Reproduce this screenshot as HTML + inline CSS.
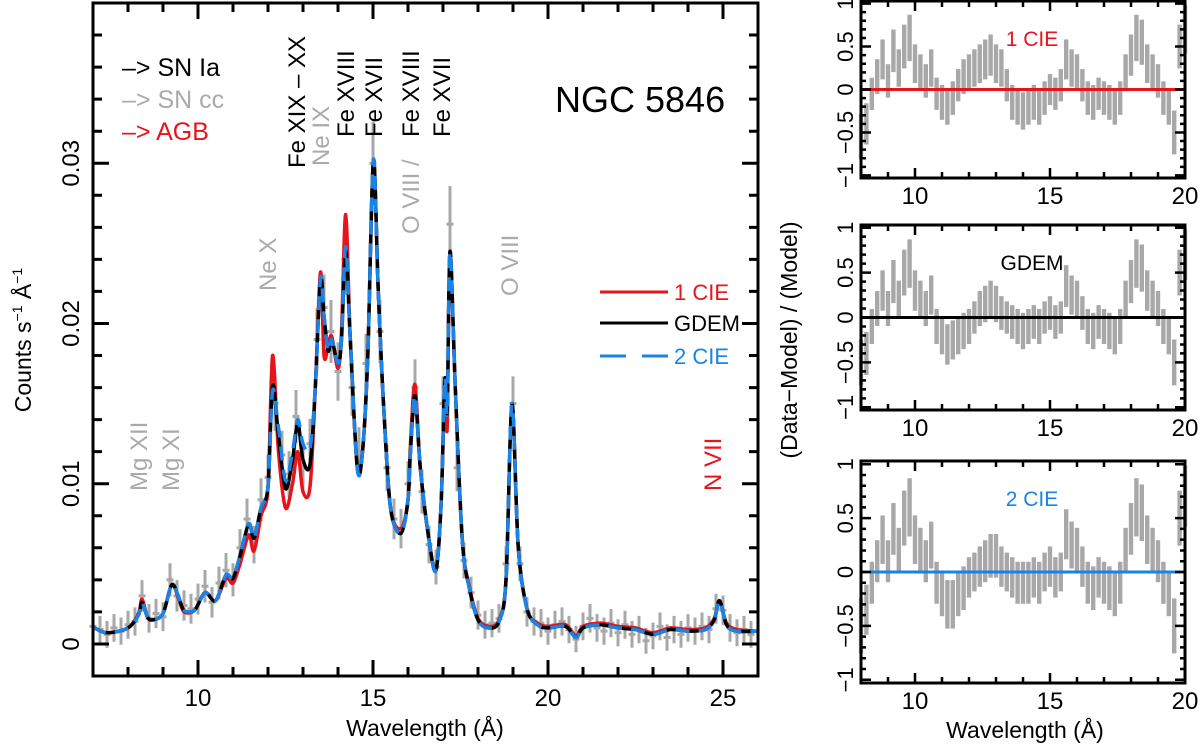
<!DOCTYPE html>
<html><head><meta charset="utf-8"><style>
html,body{margin:0;padding:0;background:#fff;}
svg{display:block;font-family:"Liberation Sans",sans-serif;}
</style></head><body>
<svg id="chart" width="1200" height="746" viewBox="0 0 1200 746">
<g id="main"></g>
<g id="res"></g>
</svg>
<script>
// ---------- main spectrum data ----------
const modelLam = [7.0,7.4,8.0,8.3,8.4,8.55,8.7,9.0,9.25,9.45,9.6,9.9,10.2,10.5,10.8,11.0,11.2,11.45,11.6,11.8,12.0,12.13,12.3,12.5,12.7,12.85,13.0,13.2,13.35,13.5,13.6,13.72,13.82,14.0,14.1,14.22,14.35,14.55,14.7,14.85,15.01,15.15,15.3,15.5,15.8,16.0,16.07,16.2,16.35,16.6,16.8,16.95,17.05,17.12,17.2,17.35,17.55,17.75,18.0,18.3,18.6,18.8,18.97,19.15,19.4,19.7,20.0,20.5,20.8,21.0,21.5,22.0,22.5,23.0,23.5,24.0,24.5,24.75,24.9,25.1,25.4,26.0];
const gdem = [0.00105,0.0007,0.001,0.0018,0.0026,0.0017,0.0015,0.0019,0.0037,0.0029,0.0021,0.0021,0.0032,0.0027,0.0043,0.0041,0.0055,0.0075,0.0066,0.0085,0.0098,0.0161,0.013,0.0097,0.0115,0.0138,0.0115,0.0112,0.016,0.0228,0.0205,0.0183,0.019,0.0175,0.019,0.0245,0.019,0.011,0.012,0.018,0.0302,0.022,0.015,0.0085,0.0069,0.009,0.012,0.0155,0.011,0.0065,0.0046,0.009,0.0165,0.0145,0.0245,0.016,0.0065,0.0035,0.0015,0.001,0.0014,0.004,0.015,0.006,0.0022,0.0012,0.001,0.0011,0.0004,0.001,0.0012,0.001,0.0009,0.0006,0.0009,0.0008,0.0009,0.0015,0.0027,0.0012,0.0008,0.0008];
const cie1 = [0.00105,0.0007,0.001,0.0019,0.0028,0.0017,0.0015,0.0019,0.0037,0.0028,0.0020,0.0021,0.0032,0.0027,0.0041,0.0038,0.0050,0.0068,0.0058,0.0080,0.0098,0.0180,0.012,0.0085,0.0100,0.0120,0.0095,0.0098,0.0160,0.0232,0.0180,0.0186,0.0192,0.0172,0.0195,0.0268,0.019,0.011,0.012,0.018,0.0302,0.022,0.015,0.0085,0.0072,0.009,0.0125,0.0162,0.011,0.0065,0.0046,0.009,0.0160,0.0135,0.0245,0.016,0.0065,0.0036,0.0016,0.0011,0.0015,0.004,0.015,0.006,0.0022,0.0013,0.0011,0.0012,0.0005,0.0011,0.0013,0.0011,0.0010,0.0007,0.0010,0.0009,0.0010,0.0016,0.0027,0.0013,0.0009,0.0008];
const cie2 = [0.00105,0.0007,0.001,0.0018,0.0026,0.0017,0.0015,0.0019,0.0037,0.0029,0.0021,0.0021,0.0032,0.0027,0.0043,0.0041,0.0055,0.0075,0.0066,0.0085,0.0098,0.0158,0.0135,0.0102,0.0120,0.0140,0.0125,0.0122,0.0160,0.0228,0.0205,0.0183,0.019,0.0175,0.019,0.0248,0.019,0.011,0.012,0.018,0.0302,0.022,0.015,0.0085,0.0069,0.009,0.012,0.0155,0.011,0.0065,0.0046,0.009,0.0165,0.0145,0.0245,0.016,0.0065,0.0035,0.0015,0.001,0.0014,0.004,0.015,0.006,0.0022,0.0012,0.001,0.0011,0.0004,0.001,0.0012,0.001,0.0009,0.0006,0.0009,0.0008,0.0009,0.0015,0.0027,0.0012,0.0008,0.0008];
const dataStart = 7.0, dataStep = 0.2;
const dataCounts = [0.0011,0.0009,0.0006,0.0010,0.0008,0.0012,0.0014,0.0030,0.0016,0.0019,0.0017,0.0040,0.0030,0.0024,0.0022,0.0028,0.0036,0.0026,0.0038,0.0046,0.0040,0.0060,0.0078,0.0062,0.0090,0.0104,0.0150,0.0118,0.0106,0.0142,0.0110,0.0125,0.0190,0.0210,0.0195,0.0170,0.0240,0.0160,0.0120,0.0175,0.0300,0.0195,0.0110,0.0078,0.0072,0.0100,0.0160,0.0095,0.0062,0.0048,0.0150,0.0262,0.0110,0.0052,0.0032,0.0018,0.0012,0.0013,0.0016,0.0050,0.0150,0.0050,0.0020,0.0014,0.0013,0.0008,0.0012,0.0014,0.0009,0.0003,0.0011,0.0016,0.0010,0.0008,0.0013,0.0007,0.0012,0.0006,0.0009,0.0002,0.0005,0.0011,0.0004,0.0009,0.0006,0.0010,0.0008,0.0011,0.0009,0.0022,0.0021,0.0010,0.0007,0.0009,0.0006];
const xTicksMain = [10,15,20,25];
const yTicksMain = [0,0.01,0.02,0.03];
const yTickLabelsMain = ["0","0.01","0.02","0.03"];

// ---------- residual data ----------
const resStart = 8.0, resStep = 0.2;
const res1cie = [-0.55,-0.4,-0.05,0.15,0.35,0.1,0.45,0.25,0.5,0.6,0.3,0.2,0.1,0.25,-0.05,-0.15,-0.2,-0.1,0.05,0.15,0.2,0.25,0.3,0.35,0.4,0.3,0.25,0.05,-0.15,-0.2,-0.25,-0.2,-0.15,-0.2,-0.1,0.0,-0.05,0.05,0.35,0.25,0.2,0.05,-0.1,-0.15,-0.05,-0.1,-0.15,-0.2,-0.1,0.2,0.4,0.6,0.55,0.3,0.2,0.1,-0.1,-0.2,-0.5,0.5,0.7];
const resGdem = [-0.5,-0.4,-0.1,0.1,0.3,0.1,0.4,0.2,0.5,0.6,0.3,0.2,0.1,0.25,-0.1,-0.2,-0.3,-0.25,-0.2,-0.15,-0.1,0.0,0.1,0.15,0.2,0.15,0.05,0.0,-0.05,-0.1,-0.15,-0.1,-0.05,-0.1,0.0,0.05,-0.05,0.0,0.35,0.25,0.2,0.05,-0.1,-0.15,-0.05,-0.1,-0.15,-0.2,-0.1,0.2,0.4,0.6,0.55,0.3,0.2,0.1,-0.1,-0.2,-0.5,0.5,0.7];
const res2cie = [-0.5,-0.35,-0.1,0.1,0.3,0.1,0.4,0.2,0.5,0.6,0.3,0.2,0.1,0.25,-0.1,-0.2,-0.3,-0.3,-0.2,-0.15,-0.05,0.0,0.05,0.1,0.15,0.15,0.05,0.0,-0.05,-0.1,-0.1,-0.1,-0.05,-0.1,0.0,0.05,-0.05,0.0,0.35,0.25,0.2,0.05,-0.1,-0.15,-0.05,-0.1,-0.15,-0.2,-0.1,0.2,0.4,0.6,0.55,0.3,0.2,0.1,-0.1,-0.2,-0.5,0.5,0.7];
const resTicksX = [10,15,20];
const resTicksY = [1,0.5,0,-0.5,-1];
const resTickLabelsY = ["1","0.5","0","\u22120.5","\u22121"];

const NS = "http://www.w3.org/2000/svg";
function mk(tag, attrs, parent, text){
  const e = document.createElementNS(NS, tag);
  for (const k in attrs) e.setAttribute(k, attrs[k]);
  if (text !== undefined) e.textContent = text;
  parent.appendChild(e); return e;
}
const M = {l:93, r:758, t:3, b:676, x0:7, x1:26, y0:-0.002, y1:0.040};
const mx = v => M.l + (v - M.x0) / (M.x1 - M.x0) * (M.r - M.l);
const my = v => M.b - (v - M.y0) / (M.y1 - M.y0) * (M.b - M.t);
const main = document.getElementById('main');

const dg = mk('g', {}, main);


dataCounts.forEach((v, i) => {
  const lam = dataStart + i * dataStep;
  const err = 0.0008 + 0.06 * v;
  const bar = mk('path', {d:`M${mx(lam)},${my(v+err)}V${my(Math.max(v-err,-0.0019))}M${mx(lam-dataStep/2)},${my(v)}H${mx(lam+dataStep/2)}`, stroke:'#a8a8a8', 'stroke-width':3, fill:'none'}, dg);
  
  
});
function smoothPath(xs, ys, fx, fy){
  const P = xs.map((x,i)=>[fx(x), fy(ys[i])]);
  let d = `M${P[0][0].toFixed(1)},${P[0][1].toFixed(1)}`;
  for (let i=0;i<P.length-1;i++){
    const p0=P[Math.max(i-1,0)], p1=P[i], p2=P[i+1], p3=P[Math.min(i+2,P.length-1)];
    const t=0.16;
    const c1=[p1[0]+(p2[0]-p0[0])*t, p1[1]+(p2[1]-p0[1])*t];
    const c2=[p2[0]-(p3[0]-p1[0])*t, p2[1]-(p3[1]-p1[1])*t];
    d+=`C${c1[0].toFixed(1)},${c1[1].toFixed(1)} ${c2[0].toFixed(1)},${c2[1].toFixed(1)} ${p2[0].toFixed(1)},${p2[1].toFixed(1)}`;
  }
  return d;
}
const l1 = mk('path', {d:smoothPath(modelLam,cie1,mx,my), stroke:'#e8141c', 'stroke-width':3.5, fill:'none', 'stroke-linejoin':'round'}, main);


const l2 = mk('path', {d:smoothPath(modelLam,gdem,mx,my), stroke:'#000', 'stroke-width':3.5, fill:'none', 'stroke-linejoin':'round'}, main);


const l3 = mk('path', {d:smoothPath(modelLam,cie2,mx,my), stroke:'#1a84e6', 'stroke-width':3.5, fill:'none', 'stroke-dasharray':'14,9', 'stroke-linejoin':'round'}, main);



const fr = mk('rect', {x:M.l, y:M.t, width:M.r-M.l, height:M.b-M.t, fill:'none', stroke:'#000', 'stroke-width':3}, main);


let tk = '';
for (let w = 8; w <= 25; w++){ const L = (w%5===0)?16:9; tk += `M${mx(w)},${M.b}v${-L}M${mx(w)},${M.t}v${L}`; }
for (let k = 0; k <= 20; k++){ const v = k*0.002; const L = (k%5===0)?16:9; tk += `M${M.l},${my(v)}h${L}M${M.r},${my(v)}h${-L}`; }
const tks = mk('path', {d:tk, stroke:'#000', 'stroke-width':3}, main);


xTicksMain.forEach(v => {
  const t = mk('text', {x:mx(v), y:706, 'font-size':24, 'text-anchor':'middle'}, main, String(v));
  
  
});
yTicksMain.forEach((v,i) => {
  const t = mk('text', {x:0, y:0, 'font-size':24, 'text-anchor':'middle', transform:`translate(79,${my(v)}) rotate(-90)`}, main, yTickLabelsMain[i]);
  
  
});

const R = {l:861, r:1185, x0:8, x1:20};
const rx = v => R.l + (v - R.x0) / (R.x1 - R.x0) * (R.r - R.l);
const panels = [
  {t:1, b:178, data:res1cie, color:'#e8141c', label:'1 CIE', name:'residual-panel-1cie'},
  {t:225, b:410, data:resGdem, color:'#000', label:'GDEM', name:'residual-panel-gdem'},
  {t:461, b:683, data:res2cie, color:'#1a84e6', label:'2 CIE', name:'residual-panel-2cie'}
];
const resG = document.getElementById('res');
panels.forEach(p => {
  const g = mk('g', {}, resG);
  
  
  const ry = v => (p.t+p.b)/2 - v / 1.03 * (p.b - p.t)/2;
  p.data.forEach((v,i) => {
    const lam = resStart + i*resStep;
    const e = 0.18 + Math.abs(v)*0.15;
    const lo = Math.max(v-e,-1.03), hi = Math.min(v+e,1.03);
    const b = mk('rect', {x:rx(lam-resStep/2)+0.5, y:ry(hi), width:(rx(resStep)-rx(0))-1, height:ry(lo)-ry(hi), fill:'#a8a8a8'}, g);
    
    
  });
  const zl = mk('line', {x1:R.l, x2:R.r, y1:ry(0), y2:ry(0), stroke:p.color, 'stroke-width':3}, g);
  
  
  const f = mk('rect', {x:R.l, y:p.t, width:R.r-R.l, height:p.b-p.t, fill:'none', stroke:'#000', 'stroke-width':3}, g);
  
  
  let d='';
  for (let w=9; w<20; w++){ const L=(w%5===0)?10:6; d+=`M${rx(w)},${p.b}v${-L}M${rx(w)},${p.t}v${L}`; }
  for (let k=-10;k<=10;k++){ const v=k*0.1; const L=(k%5===0)?10:5; d+=`M${R.l},${ry(v)}h${L}M${R.r},${ry(v)}h${-L}`; }
  const tp = mk('path', {d:d, stroke:'#000', 'stroke-width':2.5}, g);
  
  
  resTicksX.forEach(v => {
    const t = mk('text', {x:rx(v), y:p.b+26, 'font-size':24, 'text-anchor':'middle'}, g, String(v));
    
    
  });
  resTicksY.forEach((v,i) => {
    const t = mk('text', {x:0, y:0, 'font-size':22, 'text-anchor':'middle', transform:`translate(853,${ry(v)}) rotate(-90)`}, g, resTickLabelsY[i]);
    
    
  });
  const lb = mk('text', {x:1032, y:p.t + 45, 'font-size':21, 'text-anchor':'middle', fill:p.color}, g, p.label);
  
  
});
</script>
<svg width="1200" height="746" style="position:absolute;left:0;top:0">
<g font-family="Liberation Sans, sans-serif">
<text x="425" y="736" font-size="23" text-anchor="middle">Wavelength (Å)</text>
<text x="1025" y="738" font-size="23" text-anchor="middle">Wavelength (Å)</text>
<text transform="translate(31,340) rotate(-90)" font-size="23" text-anchor="middle">Counts s<tspan font-size="14" dy="-9">−1</tspan><tspan dy="9"> Å</tspan><tspan font-size="14" dy="-9">−1</tspan></text>
<text transform="translate(797,340) rotate(-90)" font-size="23" text-anchor="middle">(Data−Model) / (Model)</text>
<text x="555" y="112" font-size="36">NGC 5846</text>
<text x="122" y="76" font-size="25" fill="#000">–&gt; SN Ia</text>
<text x="122" y="108" font-size="25" fill="#aaa">–&gt; SN cc</text>
<text x="122" y="140" font-size="25" fill="#e8141c">–&gt; AGB</text>
<line x1="600" y1="292" x2="668" y2="292" stroke="#e8141c" stroke-width="3"/>
<text x="674" y="300" font-size="22" fill="#e8141c">1 CIE</text>
<line x1="600" y1="323" x2="668" y2="323" stroke="#000" stroke-width="3"/>
<text x="674" y="331" font-size="22" fill="#000">GDEM</text>
<line x1="600" y1="356" x2="668" y2="356" stroke="#1a84e6" stroke-width="3" stroke-dasharray="26,16"/>
<text x="674" y="364" font-size="22" fill="#1a84e6">2 CIE</text>
<g font-size="24">
<text transform="translate(305,168) rotate(-90)" fill="#000">Fe XIX – XX</text>
<text transform="translate(329,166) rotate(-90)" fill="#aaa">Ne IX</text>
<text transform="translate(354,137) rotate(-90)" fill="#000">Fe XVIII</text>
<text transform="translate(382,137) rotate(-90)" fill="#000">Fe XVII</text>
<text transform="translate(419,137) rotate(-90)" fill="#000">Fe XVIII</text>
<text transform="translate(450,137) rotate(-90)" fill="#000">Fe XVII</text>
<text transform="translate(419,234) rotate(-90)" fill="#aaa">O VIII /</text>
<text transform="translate(276,291) rotate(-90)" fill="#aaa">Ne X</text>
<text transform="translate(518,296) rotate(-90)" fill="#aaa">O VIII</text>
<text transform="translate(147,491) rotate(-90)" fill="#aaa">Mg XII</text>
<text transform="translate(179,491) rotate(-90)" fill="#aaa">Mg XI</text>
<text transform="translate(721,491) rotate(-90)" fill="#e8141c">N VII</text>
</g>
</g>
</svg>
</body></html>
